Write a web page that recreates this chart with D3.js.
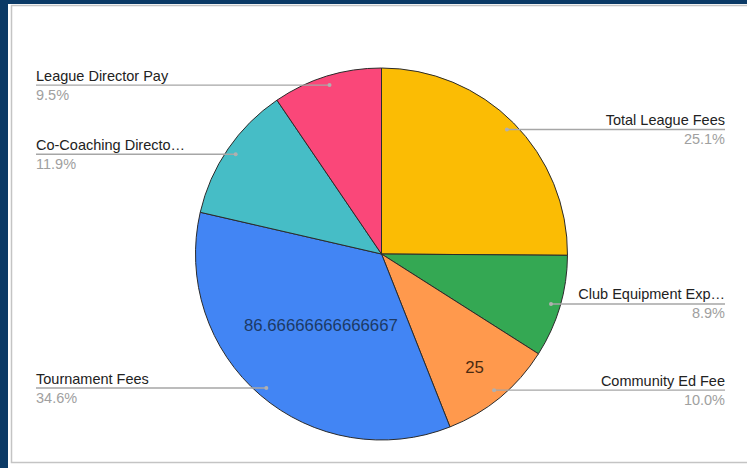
<!DOCTYPE html>
<html>
<head>
<meta charset="utf-8">
<script src="https://cdn.jsdelivr.net/npm/d3@7"></script>
<style>
  body { margin: 0; background: #fff; }
  svg { display: block; font-family: "Liberation Sans", Arial, sans-serif; }
</style>
</head>
<body>
<svg width="747" height="468"></svg>
<script>
// slice data, clockwise from 12 o'clock
const labels = ["Total League Fees", "Club Equipment Exp\u2026", "Community Ed Fee", "Tournament Fees", "Co-Coaching Directo\u2026", "League Director Pay"];
const values = [62.9, 22.3, 25, 86.66666666666667, 29.8, 23.8];
const showValue = [false, false, true, true, false, false];

const colors = ["#fbbc04", "#34a853", "#ff994d", "#4285f4", "#46bdc6", "#fa4779"];
const valueColors = { 2: "#4a2a10", 3: "#1c3a66" };
const valueRadius = { 2: 0.785, 3: 0.5 };

const svg = d3.select("svg");

// frame: dark strip on left/top, grey border round the chart
svg.append("rect").attr("x", 0).attr("y", 0).attr("width", 747).attr("height", 468).attr("fill", "#0b3a66");
svg.append("rect").attr("x", 8).attr("y", 4).attr("width", 740).attr("height", 464).attr("fill", "#fff");
svg.append("rect").attr("x", 11.5).attr("y", 5.5).attr("width", 740).attr("height", 457)
  .attr("fill", "#fff").attr("stroke", "#c4c4c4").attr("stroke-width", 1.5);

const cx = 381.5, cy = 254, r = 186;
const g = svg.append("g").attr("transform", "translate(" + cx + "," + cy + ")");

const data = labels.map((name, i) => ({ name, value: values[i], i }));
const total = d3.sum(values);
const pct = d3.format(".1%");

const pie = d3.pie().sort(null).value((d) => d.value);
const arcs = pie(data);
const arc = d3.arc().innerRadius(0).outerRadius(r);

g.selectAll(".slice")
  .data(arcs)
  .join("path")
  .attr("class", "slice")
  .attr("d", arc)
  .attr("fill", (d) => colors[d.data.i])
  .attr("stroke", "#2b2b2b")
  .attr("stroke-width", 1);

// values drawn inside two slices
g.selectAll(".val")
  .data(arcs.filter((d) => showValue[d.data.i]))
  .join("text")
  .attr("class", "val")
  .attr("transform", (d) => {
    const a = (d.startAngle + d.endAngle) / 2;
    const k = r * valueRadius[d.data.i];
    return "translate(" + Math.sin(a) * k + "," + (-Math.cos(a) * k) + ")";
  })
  .attr("text-anchor", "middle")
  .attr("dy", "0.36em")
  .attr("font-size", "16.8px")
  .attr("fill", (d) => valueColors[d.data.i])
  .text((d) => String(d.data.value));

// leader lines and outside labels
const leftX = 36 - cx, rightX = 725 - cx;
const lab = g.selectAll(".lab").data(arcs).join("g").attr("class", "lab");

lab.each(function (d) {
  const a = (d.startAngle + d.endAngle) / 2;
  const px = Math.sin(a) * r * 0.95;
  const py = -Math.cos(a) * r * 0.95;
  const right = a < Math.PI;
  const ex = right ? rightX : leftX;
  const el = d3.select(this);
  el.append("line")
    .attr("x1", px).attr("y1", py).attr("x2", ex).attr("y2", py)
    .attr("stroke", "#a6a6a6").attr("stroke-width", 1.3);
  el.append("circle")
    .attr("cx", px).attr("cy", py).attr("r", 2)
    .attr("fill", "#b0b0b0");
  el.append("text")
    .attr("x", ex).attr("y", py - 4.5)
    .attr("text-anchor", right ? "end" : "start")
    .attr("font-size", "14.5px")
    .attr("fill", "#222")
    .text(d.data.name);
  el.append("text")
    .attr("x", ex).attr("y", py + 14.5)
    .attr("text-anchor", right ? "end" : "start")
    .attr("font-size", "14.5px")
    .attr("fill", "#a0a0a0")
    .text(pct(d.data.value / total));
});
</script>
</body>
</html>
